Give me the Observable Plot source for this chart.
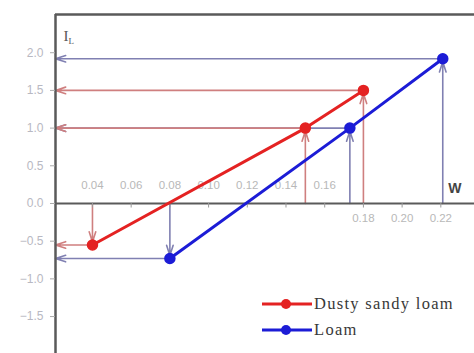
<!DOCTYPE html>
<html>
<head>
<meta charset="utf-8">
<script src="https://cdn.jsdelivr.net/npm/d3@7"></script>
<script src="https://cdn.jsdelivr.net/npm/@observablehq/plot@0.6"></script>
<style>
  html, body { margin: 0; padding: 0; background: #fff; }
  #wrap { position: relative; width: 474px; height: 353px; }
  #legend { position: absolute; left: 262px; top: 291px; font-family: "Liberation Serif", "DejaVu Serif", serif; font-size: 16.5px; letter-spacing: 1.3px; color: #383838; }
  #legend div { display: flex; align-items: center; height: 26px; }
  #legend svg { margin-right: 2px; }
</style>
</head>
<body>
<div id="wrap"></div>
<script>
// Moisture W versus liquidity index I_L for two soils
const seriesNames = ["Dusty sandy loam", "Loam"];
const seriesColors = ["#e42222", "#1c1cd6"];
const arrowColors = ["#cf7f7f", "#8080b2"];

const sandyLoamW = [0.04, 0.15, 0.18];
const sandyLoamIL = [-0.55, 1.0, 1.5];
const loamW = [0.08, 0.173, 0.221];
const loamIL = [-0.73, 1.0, 1.92];

const yTicks = [-1.5, -1.0, -0.5, 0.0, 0.5, 1.0, 1.5, 2.0];
const xTicksAbove = [0.04, 0.06, 0.08, 0.10, 0.12, 0.14, 0.16];
const xTicksBelow = [0.18, 0.20, 0.22];

const xMin = 0.0209, xMax = 0.2374;

const rows = [];
sandyLoamW.forEach((w, i) => rows.push({series: seriesNames[0], w, il: sandyLoamIL[i]}));
loamW.forEach((w, i) => rows.push({series: seriesNames[1], w, il: loamIL[i]}));

const bySeries = name => rows.filter(d => d.series === name);
const color = name => seriesColors[seriesNames.indexOf(name)];
const acolor = name => arrowColors[seriesNames.indexOf(name)];

const marks = [];
// guide arrows: loam first so the sandy loam ones sit on top
for (const name of [seriesNames[1], seriesNames[0]]) {
  const data = bySeries(name);
  // from each point across to the I_L axis
  marks.push(Plot.arrow(data, {
    x1: "w", y1: "il", x2: () => xMin, y2: "il",
    stroke: acolor(name), strokeWidth: 1.6, headLength: 10, headAngle: 36
  }));
  // from the W axis up (or down) to each point
  marks.push(Plot.arrow(data, {
    x1: "w", y1: () => 0, x2: "w", y2: "il",
    stroke: acolor(name), strokeWidth: 1.6, headLength: 10, headAngle: 36, insetEnd: 3
  }));
}

// frame: top edge, left spine, and the zero line
marks.push(Plot.ruleY([2.507], {stroke: "#5a5a5a", strokeWidth: 2.5}));
marks.push(Plot.ruleX([xMin], {stroke: "#5a5a5a", strokeWidth: 2.5}));
marks.push(Plot.ruleY([0], {stroke: "#5a5a5a", strokeWidth: 2}));

// y axis ticks and labels
marks.push(Plot.axisY(yTicks, {
  tickFormat: d3.format(".1f"), tickSize: 5, tickPadding: 7,
  fill: "#b8b8c2", stroke: "#aaa", fontSize: 12, label: null
}));

// x tick marks on the zero line, labels above or below it
marks.push(Plot.ruleX([...xTicksAbove, ...xTicksBelow], {y1: 0, y2: -0.06, stroke: "#999", strokeWidth: 1}));
marks.push(Plot.text(xTicksAbove, {x: d => d, y: () => 0, dy: -18, text: d => d3.format(".2f")(d), fill: "#b8b8b8", fontSize: 11.5}));
marks.push(Plot.text(xTicksBelow, {x: d => d, y: () => 0, dy: 15, text: d => d3.format(".2f")(d), fill: "#b8b8b8", fontSize: 11.5}));

// series lines and points
for (const name of seriesNames) {
  const data = bySeries(name);
  marks.push(Plot.line(data, {x: "w", y: "il", stroke: color(name), strokeWidth: 3}));
  marks.push(Plot.dot(data, {x: "w", y: "il", r: 5, fill: color(name), stroke: color(name)}));
}

// axis titles
marks.push(Plot.text(["W"], {y: () => 0, frameAnchor: "right", dx: -13, dy: -15, text: d => d, fill: "#444", fontSize: 14, fontWeight: "bold", fontFamily: "Liberation Sans, Arial, sans-serif"}));
marks.push(Plot.text(["I"], {frameAnchor: "top-left", dx: 8, dy: 16, text: d => d, fill: "#555", fontSize: 15, fontFamily: "Liberation Serif, serif"}));
marks.push(Plot.text(["L"], {frameAnchor: "top-left", dx: 13, dy: 23, text: d => d, fill: "#555", fontSize: 9, fontFamily: "Liberation Serif, serif"}));

const chart = Plot.plot({
  width: 474,
  height: 353,
  marginLeft: 55,
  marginRight: 0,
  marginTop: 14,
  marginBottom: 0,
  style: {background: "#fff", fontFamily: "Liberation Sans, Arial, sans-serif"},
  x: {type: "linear", domain: [xMin, xMax], axis: null},
  y: {type: "linear", domain: [-1.99, 2.507], axis: null},
  marks
});

const wrap = document.getElementById("wrap");
wrap.appendChild(chart);

// legend
const legend = document.createElement("div");
legend.id = "legend";
seriesNames.forEach((name, i) => {
  const row = document.createElement("div");
  row.innerHTML = `<svg width="50" height="12"><line x1="0" x2="50" y1="6" y2="6" stroke="${seriesColors[i]}" stroke-width="3"/><circle cx="24" cy="6" r="5" fill="${seriesColors[i]}"/></svg><span>${name}</span>`;
  legend.appendChild(row);
});
wrap.appendChild(legend);
</script>
</body>
</html>
